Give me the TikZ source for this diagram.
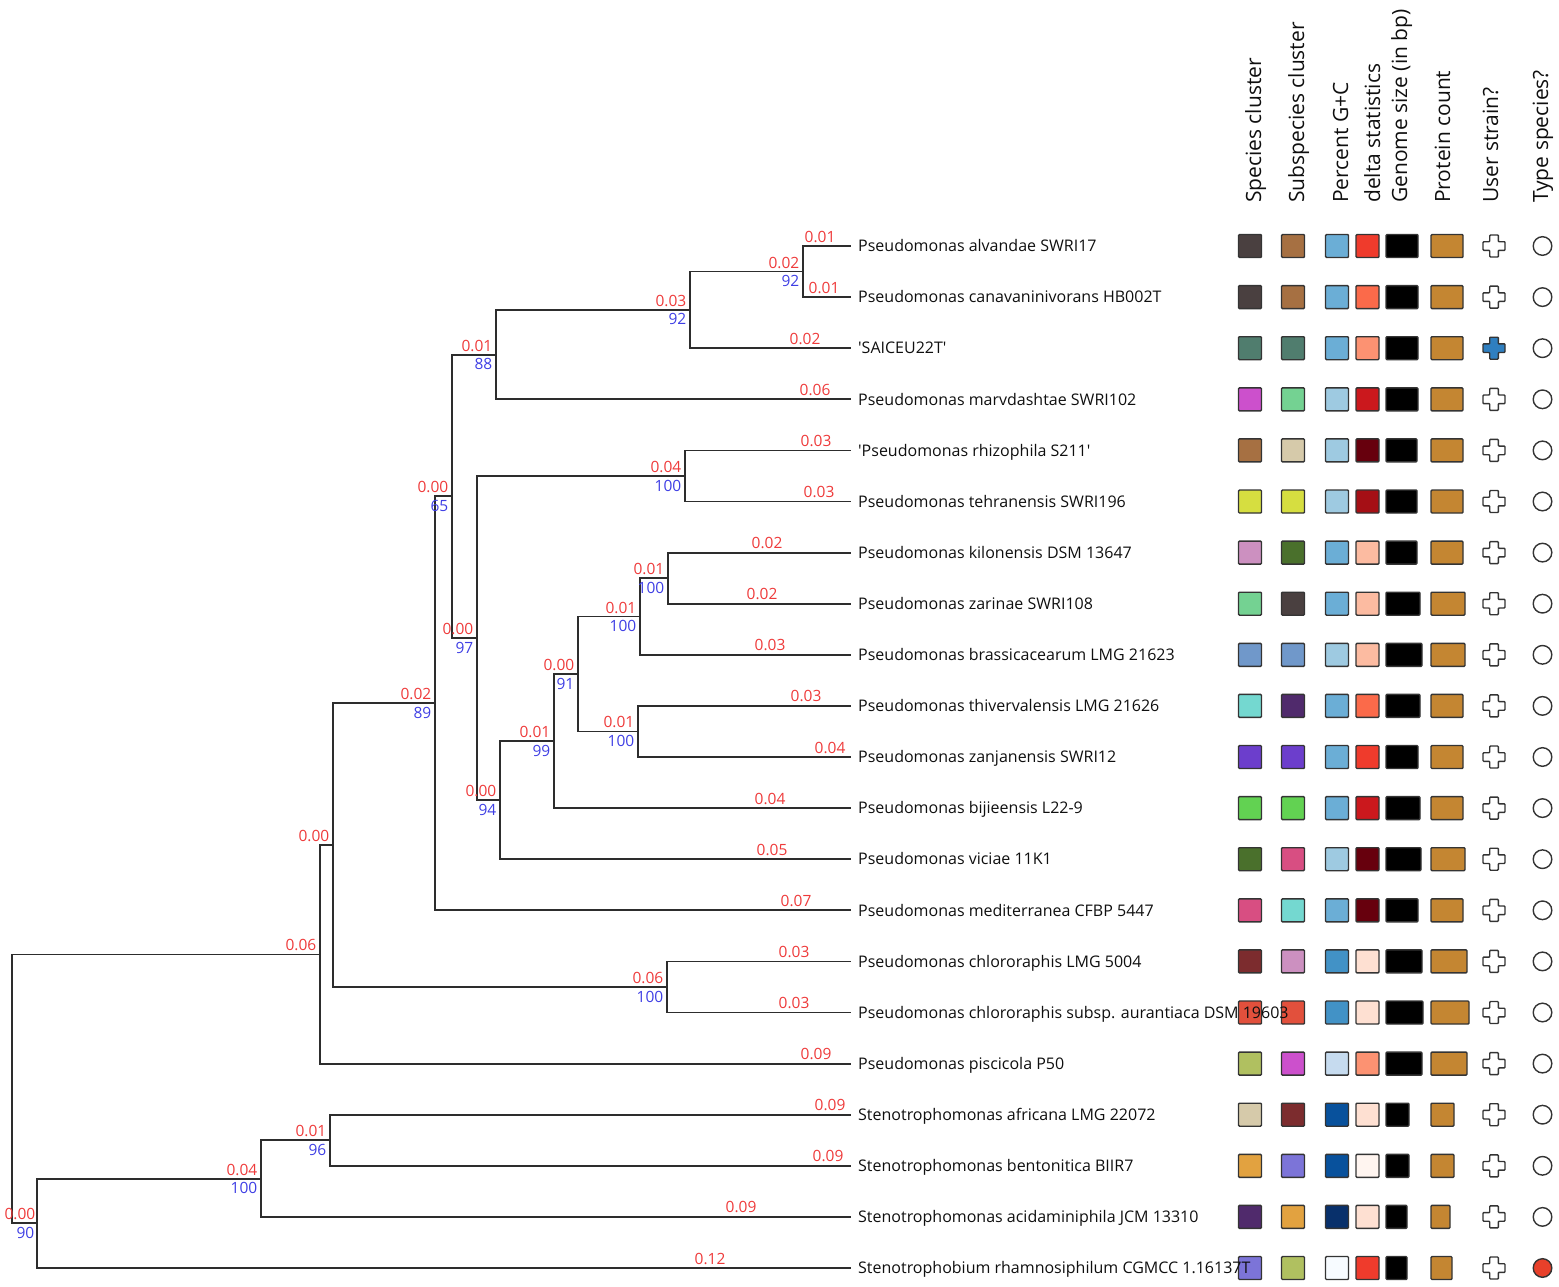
\documentclass[tikz,border=0pt]{standalone}
\usepackage{fontspec}
\setmainfont{Open Sans}
\definecolor{treeline}{RGB}{45,45,45}
\definecolor{labred}{RGB}{238,58,58}
\definecolor{labblue}{RGB}{62,62,228}
\definecolor{txt}{RGB}{15,15,15}
\definecolor{cellline}{RGB}{52,52,52}
\definecolor{c1}{HTML}{4A4040}
\definecolor{c2}{HTML}{A67042}
\definecolor{c3}{HTML}{507D6E}
\definecolor{c4}{HTML}{CC50CC}
\definecolor{c5}{HTML}{74D292}
\definecolor{c6}{HTML}{D6CAAA}
\definecolor{c7}{HTML}{D6DE40}
\definecolor{c8}{HTML}{CC90C0}
\definecolor{c9}{HTML}{4A702C}
\definecolor{c10}{HTML}{7098CA}
\definecolor{c11}{HTML}{74D8D0}
\definecolor{c12}{HTML}{502A6C}
\definecolor{c13}{HTML}{6C3ECC}
\definecolor{c14}{HTML}{62D252}
\definecolor{c15}{HTML}{D84E82}
\definecolor{c16}{HTML}{7C2C2E}
\definecolor{c17}{HTML}{E2503C}
\definecolor{c18}{HTML}{B0C060}
\definecolor{c19}{HTML}{E2A240}
\definecolor{c20}{HTML}{7C74D8}
\definecolor{gA}{HTML}{6BAED6}
\definecolor{gB}{HTML}{9ECAE1}
\definecolor{gC}{HTML}{4292C6}
\definecolor{gD}{HTML}{C6DBEF}
\definecolor{gE}{HTML}{08519C}
\definecolor{gF}{HTML}{08306B}
\definecolor{gG}{HTML}{F7FBFF}
\definecolor{dA}{HTML}{EF3B2C}
\definecolor{dB}{HTML}{FB6A4A}
\definecolor{dC}{HTML}{FC9272}
\definecolor{dD}{HTML}{CB181D}
\definecolor{dE}{HTML}{67000D}
\definecolor{dF}{HTML}{A50F15}
\definecolor{dG}{HTML}{FCBBA1}
\definecolor{dH}{HTML}{FEE0D2}
\definecolor{dI}{HTML}{FFF5F0}
\definecolor{prot}{HTML}{C48632}
\definecolor{ublue}{HTML}{2F7FC0}
\definecolor{tred}{HTML}{E8402A}
\tikzset{
 br/.style={draw=treeline,line width=1.8pt,line cap=rect},
 blen/.style={text=labred,font=\fontsize{15.5}{18}\selectfont,inner sep=0pt,anchor=base east},
 boot/.style={text=labblue,font=\fontsize{15.5}{18}\selectfont,inner sep=0pt,anchor=base east},
 llen/.style={text=labred,font=\fontsize{15.5}{18}\selectfont,inner sep=0pt,anchor=base},
 taxon/.style={text=txt,font=\fontsize{16}{19}\selectfont,inner sep=0pt,anchor=base west},
 hdr/.style={text=txt,font=\fontsize{21}{25}\selectfont,inner sep=0pt,anchor=base west,rotate=90},
 cell/.style={draw=cellline,line width=1.4pt,rounded corners=1pt},
 ucross/.pic={\filldraw[cell,fill=#1,rounded corners=0.8pt] (-4.3,-11)--(4.3,-11)--(4.3,-4.3)--(11,-4.3)--(11,4.3)--(4.3,4.3)--(4.3,11)--(-4.3,11)--(-4.3,4.3)--(-11,4.3)--(-11,-4.3)--(-4.3,-4.3)--cycle;}
}
\newcommand\ndlab[3]{%
 \node[blen] (#1a) at ([xshift=-3.5pt,yshift=3.5pt]#1) {#2};
 \node[boot] (#1b) at ([xshift=-3.5pt,yshift=-15pt]#1) {#3};}
\begin{document}
\begin{tikzpicture}[x=1pt,y=-1pt]
\useasboundingbox (0,0) rectangle (1559,1287);
% leaves
\foreach \i in {1,...,21} {\coordinate (l\i) at (850,{246+51.1*(\i-1)});}
% internal nodes
\coordinate (K1) at (803,271.55);
\coordinate (L) at (690,309.9);
\coordinate (C) at (496,354.6);
\coordinate (E) at (685,476);
\coordinate (K) at (668,578.15);
\coordinate (I) at (640,616.5);
\coordinate (J) at (638,731.45);
\coordinate (H) at (578,674);
\coordinate (G) at (554,741);
\coordinate (F) at (500,800.1);
\coordinate (D) at (477,638);
\coordinate (B) at (452,496.3);
\coordinate (A) at (435,703.3);
\coordinate (R) at (667,987);
\coordinate (Q) at (333,845.1);
\coordinate (P) at (320,954.4);
\coordinate (S3) at (330,1140.25);
\coordinate (S2) at (261,1178.6);
\coordinate (S1) at (37,1223.3);
\coordinate (root) at (12,1088.85);
% branches
\draw[br] (K1) |- (l1); \draw[br] (K1) |- (l2);
\draw[br] (L) |- (K1); \draw[br] (L) |- (l3);
\draw[br] (C) |- (L); \draw[br] (C) |- (l4);
\draw[br] (E) |- (l5); \draw[br] (E) |- (l6);
\draw[br] (K) |- (l7); \draw[br] (K) |- (l8);
\draw[br] (I) |- (K); \draw[br] (I) |- (l9);
\draw[br] (J) |- (l10); \draw[br] (J) |- (l11);
\draw[br] (H) |- (I); \draw[br] (H) |- (J);
\draw[br] (G) |- (H); \draw[br] (G) |- (l12);
\draw[br] (F) |- (G); \draw[br] (F) |- (l13);
\draw[br] (D) |- (E); \draw[br] (D) |- (F);
\draw[br] (B) |- (C); \draw[br] (B) |- (D);
\draw[br] (A) |- (B); \draw[br] (A) |- (l14);
\draw[br] (R) |- (l15); \draw[br] (R) |- (l16);
\draw[br] (Q) |- (A); \draw[br] (Q) |- (R);
\draw[br] (P) |- (Q); \draw[br] (P) |- (l17);
\draw[br] (S3) |- (l18); \draw[br] (S3) |- (l19);
\draw[br] (S2) |- (S3); \draw[br] (S2) |- (l20);
\draw[br] (S1) |- (S2); \draw[br] (S1) |- (l21);
\draw[br] (root) |- (P); \draw[br] (root) |- (S1);
% internal labels
\ndlab{K1}{0.02}{92}
\ndlab{L}{0.03}{92}
\ndlab{C}{0.01}{88}
\ndlab{E}{0.04}{100}
\ndlab{K}{0.01}{100}
\ndlab{I}{0.01}{100}
\ndlab{J}{0.01}{100}
\ndlab{H}{0.00}{91}
\ndlab{G}{0.01}{99}
\ndlab{F}{0.00}{94}
\ndlab{D}{0.00}{97}
\ndlab{B}{0.00}{65}
\ndlab{A}{0.02}{89}
\ndlab{R}{0.06}{100}
\ndlab{S3}{0.01}{96}
\ndlab{S2}{0.04}{100}
\node[blen] (S1a) at ([xshift=-1.5pt,yshift=3.5pt]S1) {0.00};
\node[boot] (S1b) at ([xshift=-2.5pt,yshift=-15pt]S1) {90};
\node[blen] (Qa) at ([xshift=-3.5pt,yshift=3.5pt]Q) {0.00};
\node[blen] (Pa) at ([xshift=-3.5pt,yshift=3.5pt]P) {0.06};
% leaf branch lengths
\foreach \i/\cx/\v in {1/820/0.01,2/824/0.01,3/805/0.02,4/815/0.06,5/816/0.03,6/819/0.03,7/767/0.02,8/762/0.02,9/770/0.03,10/806/0.03,11/830/0.04,12/770/0.04,13/772/0.05,14/796/0.07,15/794/0.03,16/794/0.03,17/816/0.09,18/830/0.09,19/828/0.09,20/741/0.09,21/710/0.12}
 {\node[llen] (bl\i) at ([yshift=4pt]\cx,{246+51.1*(\i-1)}) {\v};}
% headers
\node[hdr] (h1) at (1261,203) {Species cluster};
\node[hdr] (h2) at (1304,203) {Subspecies cluster};
\node[hdr] (h3) at (1348,203) {Percent G+C};
\node[hdr] (h4) at (1380,203) {delta statistics};
\node[hdr] (h5) at (1407,203) {Genome size (in bp)};
\node[hdr] (h6) at (1450,203) {Protein count};
\node[hdr] (h7) at (1498,203) {User strain?};
\node[hdr] (h8) at (1548,203) {Type species?};
% data cells
\foreach \i/\sp/\su/\gc/\de/\gw/\pw/\uf/\tf in {
1/c1/c2/gA/dA/32/32/white/white,
2/c1/c2/gA/dB/32/32/white/white,
3/c3/c3/gA/dC/32/32/ublue/white,
4/c4/c5/gB/dD/32/32/white/white,
5/c2/c6/gB/dE/31/32/white/white,
6/c7/c7/gB/dF/31/32/white/white,
7/c8/c9/gA/dG/31/32/white/white,
8/c5/c1/gA/dG/34/34/white/white,
9/c10/c10/gB/dG/36/34/white/white,
10/c11/c12/gA/dB/34/32/white/white,
11/c13/c13/gA/dA/32/32/white/white,
12/c14/c14/gA/dD/34/32/white/white,
13/c9/c15/gB/dE/35/34/white/white,
14/c15/c11/gA/dE/32/32/white/white,
15/c16/c8/gC/dH/36/36/white/white,
16/c17/c17/gC/dH/37/38/white/white,
17/c18/c4/gD/dC/36/36/white/white,
18/c6/c16/gE/dH/23/23/white/white,
19/c19/c20/gE/dI/23/23/white/white,
20/c12/c19/gF/dH/21/19/white/white,
21/c20/c18/gG/dA/21/21/white/tred}
{
 \pgfmathsetmacro\yy{246+51.1*(\i-1)}
 \filldraw[cell,fill=\sp] (1238.5,\yy-11.5) rectangle ++(23,23);
 \filldraw[cell,fill=\su] (1281.5,\yy-11.5) rectangle ++(23,23);
 \filldraw[cell,fill=\gc] (1325.5,\yy-11.5) rectangle ++(23,23);
 \filldraw[cell,fill=\de] (1356,\yy-11.5) rectangle ++(23,23);
 \filldraw[cell,fill=black] (1386,\yy-11.5) rectangle ++(\gw,23);
 \filldraw[cell,fill=prot] (1431,\yy-11.5) rectangle ++(\pw,23);
 \pic at (1494,\yy) {ucross=\uf};
 \filldraw[cell,fill=\tf] (1542.5,\yy) circle (9.3);
}
% taxon labels
\node[taxon] (t1) at ([yshift=-5.7pt]l1 -| 858,0) {Pseudomonas alvandae SWRI17};
\node[taxon] (t2) at ([yshift=-5.7pt]l2 -| 858,0) {Pseudomonas canavaninivorans HB002T};
\node[taxon] (t3) at ([yshift=-5.7pt]l3 -| 858,0) {\textquotesingle SAICEU22T\textquotesingle};
\node[taxon] (t4) at ([yshift=-5.7pt]l4 -| 858,0) {Pseudomonas marvdashtae SWRI102};
\node[taxon] (t5) at ([yshift=-5.7pt]l5 -| 858,0) {\textquotesingle Pseudomonas rhizophila S211\textquotesingle};
\node[taxon] (t6) at ([yshift=-5.7pt]l6 -| 858,0) {Pseudomonas tehranensis SWRI196};
\node[taxon] (t7) at ([yshift=-5.7pt]l7 -| 858,0) {Pseudomonas kilonensis DSM 13647};
\node[taxon] (t8) at ([yshift=-5.7pt]l8 -| 858,0) {Pseudomonas zarinae SWRI108};
\node[taxon] (t9) at ([yshift=-5.7pt]l9 -| 858,0) {Pseudomonas brassicacearum LMG 21623};
\node[taxon] (t10) at ([yshift=-5.7pt]l10 -| 858,0) {Pseudomonas thivervalensis LMG 21626};
\node[taxon] (t11) at ([yshift=-5.7pt]l11 -| 858,0) {Pseudomonas zanjanensis SWRI12};
\node[taxon] (t12) at ([yshift=-5.7pt]l12 -| 858,0) {Pseudomonas bijieensis L22-9};
\node[taxon] (t13) at ([yshift=-5.7pt]l13 -| 858,0) {Pseudomonas viciae 11K1};
\node[taxon] (t14) at ([yshift=-5.7pt]l14 -| 858,0) {Pseudomonas mediterranea CFBP 5447};
\node[taxon] (t15) at ([yshift=-5.7pt]l15 -| 858,0) {Pseudomonas chlororaphis LMG 5004};
\node[taxon] (t16) at ([yshift=-5.7pt]l16 -| 858,0) {Pseudomonas chlororaphis subsp. aurantiaca DSM 19603};
\node[taxon] (t17) at ([yshift=-5.7pt]l17 -| 858,0) {Pseudomonas piscicola P50};
\node[taxon] (t18) at ([yshift=-5.7pt]l18 -| 858,0) {Stenotrophomonas africana LMG 22072};
\node[taxon] (t19) at ([yshift=-5.7pt]l19 -| 858,0) {Stenotrophomonas bentonitica BIIR7};
\node[taxon] (t20) at ([yshift=-5.7pt]l20 -| 858,0) {Stenotrophomonas acidaminiphila JCM 13310};
\node[taxon] (t21) at ([yshift=-5.7pt]l21 -| 858,0) {Stenotrophobium rhamnosiphilum CGMCC 1.16137T};
\end{tikzpicture}
\end{document}
